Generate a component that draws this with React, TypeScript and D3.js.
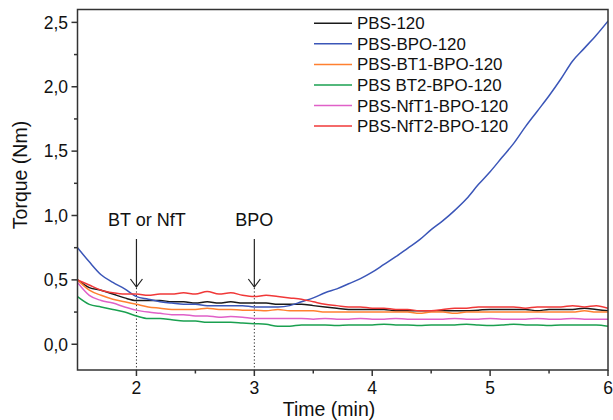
import React from "react";
import * as d3 from "d3";

const times = [1.5, 1.6, 1.7, 1.8, 1.9, 2.0, 2.1, 2.2, 2.3, 2.4, 2.5, 2.6, 2.7, 2.8, 2.9, 3.0, 3.1, 3.2, 3.3, 3.4, 3.5, 3.6, 3.7, 3.8, 3.9, 4.0, 4.1, 4.2, 4.3, 4.4, 4.5, 4.6, 4.7, 4.8, 4.9, 5.0, 5.1, 5.2, 5.3, 5.4, 5.5, 5.6, 5.7, 5.8, 5.9, 6.0];

const pbs120 = [0.50, 0.44, 0.42, 0.39, 0.36, 0.34, 0.34, 0.34, 0.33, 0.33, 0.32, 0.33, 0.32, 0.33, 0.32, 0.32, 0.32, 0.31, 0.31, 0.31, 0.30, 0.29, 0.28, 0.27, 0.27, 0.27, 0.27, 0.26, 0.26, 0.26, 0.26, 0.26, 0.26, 0.26, 0.265, 0.27, 0.27, 0.27, 0.27, 0.26, 0.27, 0.27, 0.27, 0.28, 0.27, 0.26];
const pbsBpo = [0.75, 0.64, 0.54, 0.48, 0.43, 0.37, 0.35, 0.33, 0.32, 0.31, 0.31, 0.30, 0.30, 0.30, 0.30, 0.29, 0.29, 0.29, 0.30, 0.33, 0.36, 0.40, 0.43, 0.47, 0.51, 0.56, 0.62, 0.68, 0.745, 0.81, 0.89, 0.96, 1.04, 1.13, 1.24, 1.34, 1.45, 1.56, 1.69, 1.81, 1.93, 2.06, 2.20, 2.30, 2.40, 2.51];
const pbsBt1 = [0.50, 0.42, 0.38, 0.35, 0.33, 0.31, 0.29, 0.28, 0.27, 0.27, 0.27, 0.28, 0.27, 0.27, 0.265, 0.265, 0.26, 0.27, 0.26, 0.26, 0.26, 0.25, 0.25, 0.25, 0.25, 0.25, 0.25, 0.25, 0.25, 0.24, 0.25, 0.25, 0.24, 0.25, 0.25, 0.25, 0.25, 0.25, 0.25, 0.25, 0.25, 0.25, 0.25, 0.26, 0.25, 0.25];
const pbsBt2 = [0.37, 0.31, 0.29, 0.27, 0.25, 0.22, 0.20, 0.20, 0.19, 0.18, 0.18, 0.17, 0.17, 0.17, 0.165, 0.16, 0.155, 0.14, 0.14, 0.15, 0.15, 0.15, 0.145, 0.15, 0.15, 0.15, 0.155, 0.15, 0.15, 0.145, 0.15, 0.15, 0.15, 0.155, 0.15, 0.145, 0.15, 0.155, 0.15, 0.15, 0.145, 0.15, 0.15, 0.15, 0.15, 0.14];
const pbsNft1 = [0.48, 0.38, 0.34, 0.32, 0.29, 0.265, 0.25, 0.24, 0.23, 0.23, 0.22, 0.22, 0.21, 0.215, 0.21, 0.20, 0.20, 0.20, 0.20, 0.20, 0.195, 0.20, 0.195, 0.195, 0.20, 0.195, 0.195, 0.20, 0.195, 0.195, 0.195, 0.195, 0.20, 0.195, 0.195, 0.20, 0.195, 0.195, 0.195, 0.20, 0.195, 0.195, 0.20, 0.195, 0.195, 0.195];
const pbsNft2 = [0.50, 0.46, 0.42, 0.40, 0.39, 0.39, 0.38, 0.39, 0.39, 0.40, 0.39, 0.41, 0.39, 0.40, 0.38, 0.37, 0.38, 0.37, 0.36, 0.35, 0.33, 0.31, 0.30, 0.29, 0.29, 0.28, 0.28, 0.27, 0.27, 0.26, 0.26, 0.27, 0.28, 0.28, 0.29, 0.29, 0.29, 0.29, 0.28, 0.29, 0.29, 0.29, 0.30, 0.29, 0.30, 0.28];

const seriesNames = ["PBS-120", "PBS-BPO-120", "PBS-BT1-BPO-120", "PBS BT2-BPO-120", "PBS-NfT1-BPO-120", "PBS-NfT2-BPO-120"];
const seriesValues = [pbs120, pbsBpo, pbsBt1, pbsBt2, pbsNft1, pbsNft2];
const seriesColors = ["#1a1a1a", "#3b56b8", "#ff8030", "#1aa050", "#e060c8", "#f03838"];

const xTicks = [2, 3, 4, 5, 6];
const xMinorTicks = [2.5, 3.5, 4.5, 5.5];
const yTicks = [0, 0.5, 1.0, 1.5, 2.0, 2.5];
const yMinorTicks = [0.25, 0.75, 1.25, 1.75, 2.25];

const annotations = [
  { t: 2, label: "BT or NfT" },
  { t: 3, label: "BPO" },
];

const FONT = "'Liberation Sans', Arial, Helvetica, sans-serif";

export default function App() {
  const W = 613, H = 420;
  const left = 77.5, right = 608, top = 9.5, bottom = 370;
  const x = d3.scaleLinear().domain([1.5, 6]).range([left, right]);
  const y = d3.scaleLinear().domain([-0.2, 2.6]).range([bottom, top]);
  const fmt = (v: number) => v.toFixed(1).replace(".", ",");

  const line = d3.line<number>()
    .x((_, i) => x(times[i]))
    .y((d) => y(d))
    .curve(d3.curveMonotoneX);

  return (
    <svg width={W} height={H} style={{ position: "absolute", left: 0, top: 0, background: "#fff" }} fontFamily={FONT}>
      <defs>
        <clipPath id="plotClip">
          <rect x={left} y={top} width={right - left} height={bottom - top} />
        </clipPath>
      </defs>
      <rect x={0} y={0} width={W} height={H} fill="#fff" />

      {annotations.map((a) => (
        <line key={"d" + a.t} x1={x(a.t)} x2={x(a.t)} y1={288} y2={bottom} stroke="#222" strokeWidth={1} strokeDasharray="1.2,2.2" />
      ))}

      <g clipPath="url(#plotClip)">
        {seriesValues.map((vals, i) => (
          <path key={seriesNames[i]} d={line(vals) || ""} fill="none" stroke={seriesColors[i]} strokeWidth={1.5} strokeLinejoin="round" />
        ))}
      </g>

      <rect x={left} y={top} width={right - left} height={bottom - top} fill="none" stroke="#333" strokeWidth={1.5} />

      {xTicks.map((t) => (
        <g key={"xt" + t}>
          <line x1={x(t)} x2={x(t)} y1={bottom} y2={bottom + 6} stroke="#333" strokeWidth={1.5} />
          <text x={x(t)} y={394} fontSize={17.5} textAnchor="middle" fill="#111">{t}</text>
        </g>
      ))}
      {xMinorTicks.map((t) => (
        <line key={"xm" + t} x1={x(t)} x2={x(t)} y1={bottom} y2={bottom + 3.5} stroke="#333" strokeWidth={1.5} />
      ))}
      {yTicks.map((v) => (
        <g key={"yt" + v}>
          <line x1={left - 6} x2={left} y1={y(v)} y2={y(v)} stroke="#333" strokeWidth={1.5} />
          <text x={68} y={y(v)} dy="0.36em" fontSize={17.5} textAnchor="end" fill="#111">{fmt(v)}</text>
        </g>
      ))}
      {yMinorTicks.map((v) => (
        <line key={"ym" + v} x1={left - 3.5} x2={left} y1={y(v)} y2={y(v)} stroke="#333" strokeWidth={1.5} />
      ))}

      <text x={329} y={416} fontSize={19.5} textAnchor="middle" fill="#111">Time (min)</text>
      <text transform="translate(27,175) rotate(-90)" fontSize={19.5} textAnchor="middle" fill="#111">Torque (Nm)</text>

      {annotations.map((a) => {
        const ax = x(a.t);
        return (
          <g key={"a" + a.t}>
            <text x={ax + (a.t === 2 ? 10.5 : 0)} y={226} fontSize={18} textAnchor="middle" fill="#111">{a.label}</text>
            <line x1={ax} x2={ax} y1={239} y2={287} stroke="#222" strokeWidth={1.2} />
            <polyline points={`${ax - 6},${279} ${ax},${287} ${ax + 6},${279}`} fill="none" stroke="#222" strokeWidth={1.2} />
          </g>
        );
      })}

      {seriesNames.map((n, i) => {
        const ly = 23.3 + i * 20.55;
        return (
          <g key={"l" + n}>
            <line x1={314} x2={352} y1={ly} y2={ly} stroke={seriesColors[i]} strokeWidth={1.5} />
            <text x={357} y={ly} dy="0.36em" fontSize={16.9} fill="#111">{n}</text>
          </g>
        );
      })}
    </svg>
  );
}
